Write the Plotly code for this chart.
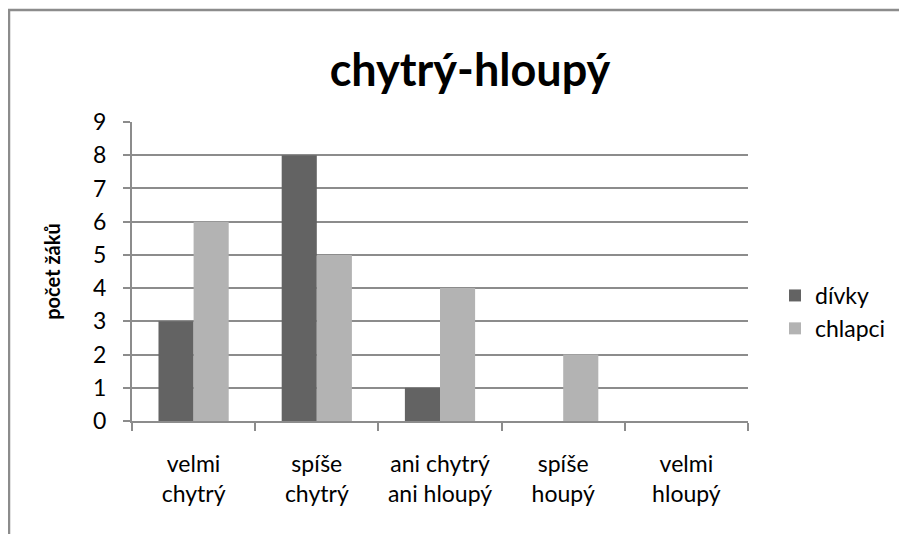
import plotly.graph_objects as go

# data
categories = ["velmi<br>chytrý", "spíše<br>chytrý", "ani chytrý<br>ani hloupý",
              "spíše<br>houpý", "velmi<br>hloupý"]
divky = [3, 8, 1, 0, 0]
chlapci = [6, 5, 4, 2, 0]
y_ticks = list(range(0, 10))

FONT = "Lato, 'Open Sans', sans-serif"
GRID = "#8c8c8c"

fig = go.Figure()
fig.add_trace(go.Bar(x=categories, y=divky, name="dívky",
                     marker=dict(color="#636363", line=dict(width=0))))
fig.add_trace(go.Bar(x=categories, y=chlapci, name="chlapci",
                     marker=dict(color="#b3b3b3", line=dict(width=0))))

# stránka má okraj 8 px, takže vše posuneme o 8 px doleva/nahoru
OFF = 8
FW, FH = 907, 534
L, T = 132 - OFF, 122 - OFF
R, B = FW - (748 - OFF), FH - (421 - OFF)
W, H = FW - L - R, FH - T - B

def px(x):
    return (x - OFF - L) / W

def py(y):
    return (FH - B - (y - OFF)) / H

# rámeček grafu (jen horní a levá hrana jsou vidět)
fig.add_shape(type="path", xref="paper", yref="paper",
              path=f"M {px(9)} {py(560)} L {px(9)} {py(10)} L {px(930)} {py(10)}",
              line=dict(color="#8c8c8c", width=2.5), layer="above")

fig.update_layout(
    width=FW, height=FH,
    margin=dict(l=L, r=R, t=T, b=B),
    paper_bgcolor="white", plot_bgcolor="white",
    barmode="group", bargap=0.43, bargroupgap=0,
    title=dict(text="<b>chytrý-hloupý</b>", x=(470 - OFF) / FW, xanchor="center",
               y=1 - (70 - OFF) / FH, yanchor="middle",
               font=dict(family=FONT, size=45, color="black")),
    font=dict(family=FONT, color="black"),
    showlegend=True,
    legend=dict(x=px(775), y=py(274), xanchor="left", yanchor="top",
                font=dict(size=23), tracegroupgap=0,
                bgcolor="rgba(0,0,0,0)"),
    xaxis=dict(tickson="boundaries", ticks="outside", ticklen=8, tickcolor=GRID,
               tickwidth=2, showline=True, linecolor=GRID, linewidth=2,
               showgrid=False, tickfont=dict(size=23), ticklabelstandoff=21,
               fixedrange=True),
    yaxis=dict(range=[0, 9], tickvals=y_ticks, ticks="outside", ticklen=7,
               tickcolor=GRID, tickwidth=2, showline=True, linecolor=GRID,
               linewidth=2, gridcolor=GRID, gridwidth=2, zeroline=False,
               tickfont=dict(size=23), ticklabelstandoff=12,
               title=dict(text="<b>počet žáků</b>", font=dict(size=20), standoff=27)),
)

fig.write_html("out.html")
